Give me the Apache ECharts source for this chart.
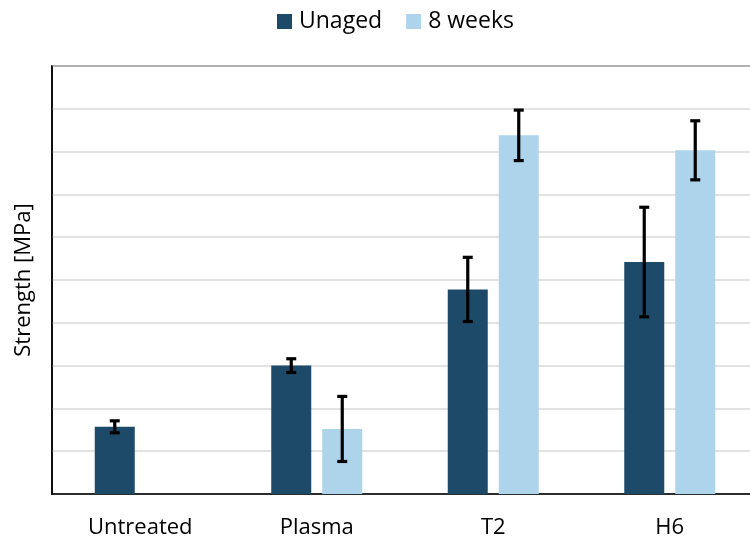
<!DOCTYPE html>
<html><head><meta charset="utf-8">
<script src="https://cdn.jsdelivr.net/npm/echarts@6/dist/echarts.min.js"></script>
<style>html,body{margin:0;padding:0;background:#fff}#c{width:750px;height:542px}</style>
</head><body><div id="c"></div>
<script>
const categories = ['Untreated', 'Plasma', 'T2', 'H6'];
const seriesNames = ['Unaged', '8 weeks'];
const unaged = [1.57, 3.0, 4.78, 5.42];
const unagedErr = [0.14, 0.16, 0.75, 1.28];
const weeks8 = [null, 1.52, 8.38, 8.03];
const weeks8Err = [null, 0.76, 0.59, 0.69];

const colors = ['#1d4a68', '#aed4eb'];
const FONT = 'Open Sans';

function errSeries(vals, errs, offset) {
  const data = vals.map((v, i) => v == null ? null : [i, v - errs[i], v + errs[i]]).filter(d => d);
  return {
    type: 'custom', z: 10, silent: true,
    renderItem(params, api) {
      const i = api.value(0);
      const lo = api.coord([i, api.value(1)]);
      const hi = api.coord([i, api.value(2)]);
      const x = lo[0] + offset, cw = 5;
      const st = { stroke: '#000', lineWidth: 3.2 };
      return { type: 'group', children: [
        { type: 'line', shape: { x1: x, y1: hi[1], x2: x, y2: lo[1] }, style: st },
        { type: 'line', shape: { x1: x - cw, y1: hi[1], x2: x + cw, y2: hi[1] }, style: st },
        { type: 'line', shape: { x1: x - cw, y1: lo[1], x2: x + cw, y2: lo[1] }, style: st }
      ]};
    },
    data
  };
}

const chart = echarts.init(document.getElementById('c'), null, { renderer: 'canvas' });
chart.setOption({
  animation: false,
  legend: {
    top: 5, left: 272, itemWidth: 15, itemHeight: 15, itemGap: 24,
    icon: 'rect',
    textStyle: { fontFamily: FONT, fontSize: 23, color: '#000', padding: [0, 0, 0, 2] },
    data: seriesNames
  },
  grid: { left: 52, top: 66, width: 706, height: 428, show: true, borderColor: '#000', borderWidth: 1.5, containLabel: false, outerBoundsMode: 'none' },
  xAxis: {
    type: 'category', data: categories,
    axisLine: { lineStyle: { color: '#000', width: 1.5 } },
    axisTick: { show: false },
    axisLabel: { fontFamily: FONT, fontSize: 22, color: '#000', margin: 23 }
  },
  yAxis: {
    type: 'value', min: 0, max: 10, interval: 1,
    name: 'Strength [MPa]', nameLocation: 'middle', nameGap: 17,
    nameTextStyle: { fontFamily: FONT, fontSize: 22, color: '#000' },
    axisLine: { show: true, lineStyle: { color: '#000', width: 1.5 } },
    axisTick: { show: false },
    axisLabel: { show: false },
    splitLine: { lineStyle: { color: '#d9d9d9', width: 1.5 } }
  },
  series: [
    { name: seriesNames[0], type: 'bar', data: unaged, barWidth: 40, barGap: '27.5%', itemStyle: { color: colors[0] } },
    { name: seriesNames[1], type: 'bar', data: weeks8, barWidth: 40, barGap: '27.5%', itemStyle: { color: colors[1] } },
    errSeries(unaged, unagedErr, -25.5),
    errSeries(weeks8, weeks8Err, 25.5)
  ]
});
</script></body></html>
